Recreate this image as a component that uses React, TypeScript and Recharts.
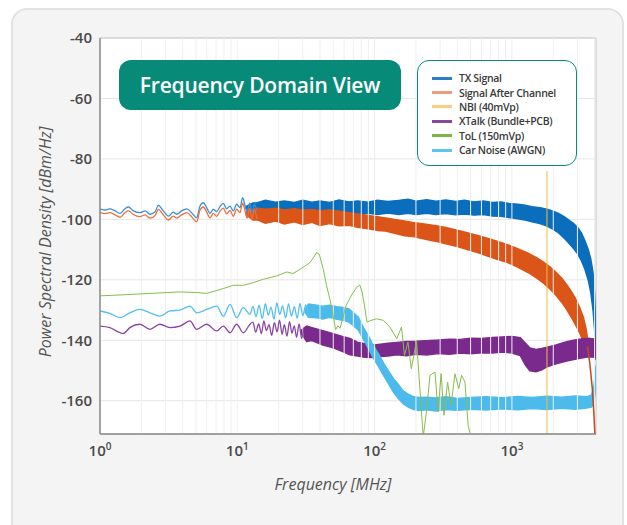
import React from "react";
import {
  ComposedChart,
  Line,
  Area,
  XAxis,
  YAxis,
  CartesianGrid,
  ReferenceLine,
  ReferenceArea,
  Legend,
} from "recharts";

const FONT = '"Open Sans", "Noto Sans", Arial, sans-serif';
const TEAL = "#088a79";

// axes: frequency in MHz (log), level in dBm/Hz
const FREQ_MIN = 1;
const FREQ_MAX = 4096;
const LEVEL_MIN = -171;
const LEVEL_MAX = -40;
const freqTicks = [1, 10, 100, 1000];
const freqMinor = [
  2, 3, 4, 5, 6, 7, 8, 9, 20, 30, 40, 50, 60, 70, 80, 90, 200, 300, 400, 500,
  600, 700, 800, 900, 2000, 3000, 4000,
];
const levelTicks = [-160, -140, -120, -100, -80, -60, -40];

const seriesNames = [
  "TX Signal",
  "Signal After Channel",
  "NBI (40mVp)",
  "XTalk (Bundle+PCB)",
  "ToL (150mVp)",
  "Car Noise (AWGN)",
];
const legendColors = ["#2c7fc7", "#f09b7e", "#f7cf7f", "#87479f", "#7db544", "#5cc4ef"];

// low-frequency part of the transmit spectrum  [MHz, dBm/Hz]
const txWave = [
  [1, -96.5], [1.09, -96.9], [1.18, -96.5], [1.29, -97.2], [1.4, -98.0], [1.52, -96.5],
  [1.61, -95.9], [1.75, -97.2], [1.95, -97.8], [2.13, -97.2], [2.31, -98.3], [2.51, -97.6],
  [2.66, -95.4], [2.89, -97.2], [3.15, -98.9], [3.42, -97.6], [3.62, -98.3], [3.93, -97.2],
  [4.28, -96.5], [4.65, -97.8], [5.06, -99.5], [5.35, -95.6], [5.65, -94.5], [5.98, -96.1],
  [6.32, -98.0], [6.69, -96.7], [7.08, -97.4], [7.48, -95.8], [7.91, -94.7], [8.36, -96.5],
  [8.85, -95.6], [9.35, -97.2], [9.89, -95.0], [10.46, -96.1], [10.94, -92.8], [11.37, -95.4],
  [11.8, -97.4], [12.3, -94.6], [12.8, -97.8], [13.3, -95.0], [13.9, -97.3],
];

// transmit spectrum noise band  [MHz, low, high]
const txBand = [
  [11.5, -96.4, -95.8], [13, -97.6, -94.6], [14, -97.7, -94.5], [16, -98.4, -93.7],
  [19, -97.9, -94.3], [22, -98.4, -93.9], [26, -98.0, -94.4], [30, -98.6, -93.7], [35, -98.1, -94.3],
  [40, -98.5, -93.9], [47, -98.0, -94.4], [55, -98.4, -93.6], [65, -98.1, -94.2], [75, -98.6, -93.9],
  [90, -98.0, -94.3], [105, -98.4, -93.7], [125, -97.9, -94.1], [150, -98.4, -93.7], [175, -98.0, -93.3],
  [200, -98.4, -94.0], [240, -98.0, -93.5], [280, -98.4, -94.0], [330, -98.1, -93.6], [390, -98.5, -94.1],
  [450, -98.2, -93.7], [530, -98.6, -94.2], [620, -98.4, -93.9], [720, -98.9, -94.4], [830, -99.0, -94.2],
  [950, -99.4, -94.7], [1100, -99.8, -95.0], [1250, -100.2, -95.3], [1400, -100.8, -95.8],
  [1600, -101.4, -96.1], [1800, -102.2, -96.6], [2000, -103.3, -97.3], [2200, -104.6, -98.1],
  [2400, -106.2, -99.1], [2600, -107.9, -100.2], [2800, -109.6, -101.3], [3000, -111.3, -102.6],
  [3200, -113.6, -104.4], [3400, -116.5, -107.0], [3600, -120.2, -110.0], [3750, -124.2, -113.0],
  [3900, -130.2, -117.6], [4000, -136.5, -124.2], [4096, -146.5, -138.2],
];

// received signal after the channel
const rxWave = [
  [1, -97.7], [1.09, -98.1], [1.18, -97.8], [1.29, -98.5], [1.4, -99.3], [1.52, -97.8],
  [1.61, -97.2], [1.75, -98.4], [1.95, -99.1], [2.13, -98.5], [2.31, -99.6], [2.51, -98.8],
  [2.66, -96.7], [2.89, -98.5], [3.15, -100.2], [3.42, -98.9], [3.62, -99.6], [3.93, -98.5],
  [4.28, -97.8], [4.65, -99.1], [5.06, -100.8], [5.35, -97.0], [5.65, -95.9], [5.98, -97.5],
  [6.32, -99.5], [6.69, -98.0], [7.08, -99.0], [7.48, -97.3], [7.91, -96.3], [8.36, -98.2],
  [8.85, -97.0], [9.35, -99.0], [9.89, -96.6], [10.46, -97.8], [10.94, -94.6], [11.37, -97.1],
  [11.8, -99.6], [12.3, -96.4], [12.8, -100.2], [13.3, -96.8], [13.9, -99.8],
];

const rxBand = [
  [11.5, -98.4, -97.7], [13, -100.2, -96.6], [14, -100.2, -96.3], [16, -101.3, -96.6],
  [19, -100.6, -96.3], [22, -101.5, -96.9], [26, -100.8, -96.5], [30, -101.7, -97.0], [35, -101.0, -96.7],
  [40, -102.0, -97.1], [47, -101.4, -96.9], [55, -102.1, -97.3], [65, -102.0, -97.8], [75, -102.6, -98.2],
  [90, -103.1, -98.7], [105, -103.7, -99.1], [120, -103.9, -99.5], [140, -104.6, -100.0],
  [165, -105.4, -100.5], [190, -105.7, -101.0], [230, -106.5, -101.5], [280, -107.3, -102.1],
  [330, -108.1, -102.7], [400, -109.0, -103.6], [480, -110.1, -104.5], [570, -111.1, -105.4],
  [680, -112.3, -106.4], [800, -113.4, -107.4], [950, -114.5, -108.5], [1100, -115.8, -109.7],
  [1300, -117.5, -111.1], [1500, -119.3, -112.6], [1700, -121.1, -114.1], [1900, -123.1, -115.8],
  [2100, -125.2, -117.6], [2300, -127.4, -119.4], [2500, -129.8, -121.5], [2700, -132.3, -123.7],
  [2900, -134.8, -126.1], [3100, -137.4, -128.9], [3300, -140.3, -132.1], [3450, -142.8, -135.6],
  [3550, -144.3, -139],
];

const rxTail = [[3550, -142], [3700, -148], [3850, -156], [3950, -164], [4030, -172]];

// narrow-band interferer
const NBI_FREQ = 1800;
const nbiLevels = [-84, -171];

// crosstalk
const xtalkWave = [
  [1, -135.3], [1.18, -135.8], [1.4, -137.5], [1.48, -137.7], [1.65, -135.8], [1.95, -134.7],
  [2.31, -136.4], [2.73, -134.7], [3.23, -135.8], [3.83, -135.3], [4.52, -133.6], [5.06, -136.4],
  [5.98, -134.7], [7.08, -136.9], [7.91, -135.3], [8.85, -137.5], [9.89, -134.7], [11.06, -137.5],
  [12.37, -134.7], [13, -134.0], [13.6, -137.3], [14.3, -134.6], [15, -137.8], [15.6, -133.6],
  [16.3, -136.8], [17, -134.8], [17.8, -138.4], [18.6, -134.2], [19.5, -137.2], [20.3, -133.3],
  [21.2, -138.0], [22, -134.8], [23, -138.6], [24, -133.8], [25, -137.6], [26, -135.2], [27, -139.0],
  [28.2, -134.6], [29.4, -139.4], [30.5, -135.8],
];

const xtalkBand = [
  [29, -137.6, -136.8], [32, -140.4, -135.3], [35, -140.1, -135.8], [42, -141.6, -136.8], [50, -142.5, -137.8],
  [59, -143.8, -138.8], [66, -144.8, -139.4], [75, -145.2, -140.6], [85, -145.6, -141.1], [95, -145.7, -141.6],
  [110, -145.4, -141.3], [125, -145.2, -141.0], [145, -144.8, -140.7], [170, -145.1, -140.4],
  [200, -144.6, -140.3], [240, -144.9, -140.1], [290, -144.4, -139.9], [350, -144.6, -139.6],
  [420, -144.2, -139.7], [500, -144.5, -139.3], [600, -144.1, -139.4], [720, -144.2, -139.1],
  [850, -143.9, -138.9], [1000, -144.2, -138.7], [1150, -145.1, -139.1], [1250, -148.1, -140.9],
  [1350, -150.1, -142.5], [1500, -150.4, -143.0], [1650, -149.8, -142.7], [1800, -148.8, -142.3],
  [2100, -147.8, -141.5], [2500, -146.9, -140.5], [3000, -146.1, -139.7], [3600, -145.5, -139.3],
  [4096, -145.6, -139.6],
];

// toggling-of-lines disturbance
const tolLine = [
  [1, -125.3], [1.4, -125.0], [2.3, -124.5], [3.8, -124.0], [5.06, -124.2], [5.98, -124.5],
  [7.9, -122.9], [9.35, -121.8], [11.1, -121.8], [13.1, -120.9], [15.5, -119.8], [19.4, -118.7],
  [22.9, -117.4], [25.5, -117.9], [28.6, -116.5], [31.2, -115.4], [33.8, -114.3], [35.8, -112.7],
  [37.8, -111.0], [39.5, -111.5], [42.3, -116.5], [44.7, -122], [47.3, -126.5], [50, -132],
  [52, -136.5], [54, -135.2], [56, -136], [58, -133.5], [62, -128.5], [68, -125], [74, -122.5],
  [78, -121.7], [81, -124], [84, -128], [88, -134], [93, -133.5], [103, -132.9], [116, -133.4],
  [129, -135.6], [145, -139.5], [157, -135.6], [165, -145], [175, -140.6], [185, -149.4],
  [202, -140.1], [212, -153.8], [226, -172], [240, -162.6], [253, -151.6], [275, -150.5],
  [290, -163.7], [305, -151], [320, -164.8], [340, -153.8], [360, -161.5], [385, -151.1],
  [410, -156], [430, -151.6], [455, -153.8], [480, -168.2], [509, -173],
];

// background (AWGN) noise
const awgnWave = [
  [1, -130.3], [1.18, -131.1], [1.4, -132.5], [1.65, -130.9], [1.95, -129.8], [2.31, -130.9],
  [2.73, -132], [3.23, -130.3], [3.83, -130], [4.52, -128.7], [5.06, -130.9], [5.98, -129.8],
  [7.08, -128.7], [7.91, -132], [8.85, -128.1], [9.89, -132.5], [11.06, -129.2], [12.37, -131.4],
  [13, -128.8], [13.7, -132.2], [14.4, -128.4], [15.2, -132.8], [16, -127.9], [16.8, -131.7],
  [17.6, -129.0], [18.5, -133.0], [19.4, -127.6], [20.4, -131.5], [21.4, -128.6], [22.5, -132.6],
  [23.6, -128.0], [24.8, -132.0], [26, -128.9], [27.3, -132.7], [28.6, -127.8], [30, -131.9],
  [31.5, -128.3], [33, -132.4],
];

const awgnBand = [
  [31, -130.6, -129.8], [33, -132.4, -128.0], [38, -132.6, -128.4], [42, -133.0, -128.7],
  [47, -132.4, -128.4], [53, -133.1, -128.9], [59, -133.4, -129.1], [65, -134.0, -129.6],
  [70, -135.2, -130.9], [76, -136.6, -132.3], [83, -139.8, -135.8], [90, -142.6, -138.5], [98, -145.9, -141.8],
  [107, -148.8, -144.6], [116, -151.6, -147.5], [126, -154.3, -150.1], [137, -157.1, -152.6],
  [150, -159.4, -154.8], [162, -161.1, -156.8], [177, -162.2, -157.9], [191, -162.8, -158.6],
  [210, -163.2, -158.9], [240, -163.0, -158.8], [280, -163.4, -159.1], [330, -162.9, -158.7],
  [400, -163.2, -159.2], [500, -162.8, -158.9], [650, -163.1, -158.7], [850, -162.7, -159.0],
  [1100, -163.0, -158.6], [1400, -162.6, -158.9], [1800, -162.9, -158.5], [2300, -162.5, -158.8],
  [2900, -162.8, -158.4], [3500, -162.4, -158.7], [3800, -162.1, -158.1], [3950, -160.6, -155.3],
  [4096, -155.6, -148.3],
];

const toLine = (rows: number[][]) => rows.map(([f, v]) => ({ f, v }));
const toBand = (rows: number[][]) => rows.map(([f, lo, hi]) => ({ f, band: [lo, hi] }));

const PowerTick = ({ x, y, payload }: any) => (
  <text x={x} y={y + 14} textAnchor="middle" fill="#4a4a4a" fontFamily={FONT} fontSize={15} fontWeight={600}>
    10
    <tspan dy={-6} fontSize={10}>
      {Math.round(Math.log10(payload.value))}
    </tspan>
  </text>
);

const LegendBox = () => (
  <div
    style={{
      width: 160,
      height: 106,
      boxSizing: "border-box",
      background: "#fff",
      border: `1.5px solid ${TEAL}`,
      borderRadius: 12,
      padding: "10px 0 0 14px",
    }}
  >
    {seriesNames.map((name, i) => (
      <div key={name} style={{ display: "flex", alignItems: "center", height: 14.4 }}>
        <span style={{ width: 20, height: 3, background: legendColors[i], marginRight: 7 }} />
        <span
          style={{
            fontFamily: FONT,
            fontSize: 10.5,
            fontWeight: 600,
            color: "#3a3a3a",
            letterSpacing: -0.3,
            whiteSpace: "nowrap",
          }}
        >
          {name}
        </span>
      </div>
    ))}
  </div>
);

export default function App() {
  return (
    <div style={{ position: "fixed", left: 0, top: 0, width: 627, height: 525, background: "#fff", overflow: "hidden" }}>
      <div
        style={{
          position: "absolute",
          left: 11,
          top: 8,
          width: 609,
          height: 560,
          background: "#f4f4f4",
          border: "2px solid #e2e2e2",
          borderRadius: 16,
        }}
      />
      <div style={{ position: "absolute", left: 0, top: 0 }}>
        <ComposedChart width={627} height={525} margin={{ top: 38, right: 31, bottom: 51, left: 40 }}>
          <CartesianGrid vertical={false} stroke="#e6e6e6" fill="#fff" />
          {freqMinor.concat(freqTicks).map((f) => (
            <ReferenceLine key={f} x={f} stroke="#efefef" strokeWidth={1} />
          ))}
          <XAxis
            dataKey="f"
            type="number"
            scale="log"
            domain={[FREQ_MIN, FREQ_MAX]}
            ticks={freqTicks}
            allowDataOverflow
            height={40}
            tickLine={false}
            axisLine={{ stroke: "#8c8c8c", strokeWidth: 1.5 }}
            tick={<PowerTick />}
            label={{
              content: () => (
                <text x={333} y={490} textAnchor="middle" fill="#555" fontFamily={FONT} fontSize={16} fontStyle="italic">
                  Frequency [MHz]
                </text>
              ),
            }}
          />
          <YAxis
            type="number"
            domain={[LEVEL_MIN, LEVEL_MAX]}
            ticks={levelTicks}
            allowDataOverflow
            width={60}
            tickLine={false}
            axisLine={{ stroke: "#8c8c8c", strokeWidth: 1.5 }}
            tick={{ fill: "#4a4a4a", fontFamily: FONT, fontSize: 15, fontWeight: 600 }}
            label={{
              content: () => (
                <text
                  x={47}
                  y={242}
                  transform="rotate(-90 47 242)"
                  textAnchor="middle"
                  dominantBaseline="middle"
                  fill="#555"
                  fontFamily={FONT}
                  fontSize={16}
                  fontStyle="italic"
                >
                  Power Spectral Density [dBm/Hz]
                </text>
              ),
            }}
          />
          <ReferenceArea x1={FREQ_MIN} x2={FREQ_MAX} y1={LEVEL_MIN} y2={LEVEL_MAX} fill="none" stroke="#c4c4c4" />

          <Line data={toLine(txWave)} dataKey="v" type="monotone" stroke="#3d8fd6" strokeWidth={1.3} dot={false} isAnimationActive={false} />
          <Area data={toBand(txBand)} dataKey="band" type="linear" stroke="#0a6ebd" strokeWidth={1.4} fill="#0a6ebd" fillOpacity={1} isAnimationActive={false} />
          <Line data={toLine(rxWave)} dataKey="v" type="monotone" stroke="#e8713f" strokeWidth={1.3} dot={false} isAnimationActive={false} />
          <Area data={toBand(rxBand)} dataKey="band" type="linear" stroke="#dc5518" strokeWidth={1.4} fill="#dc5518" fillOpacity={1} isAnimationActive={false} />
          <Line data={toLine(rxTail)} dataKey="v" type="linear" stroke="#c24a16" strokeWidth={1.5} dot={false} isAnimationActive={false} />

          <Line data={toLine(xtalkWave)} dataKey="v" type="monotone" stroke="#8a45a2" strokeWidth={1.3} dot={false} isAnimationActive={false} />
          <Area data={toBand(xtalkBand)} dataKey="band" type="linear" stroke="#7a2a8c" strokeWidth={1.4} fill="#7a2a8c" fillOpacity={1} isAnimationActive={false} />

          <Line data={toLine(awgnWave)} dataKey="v" type="monotone" stroke="#55bfee" strokeWidth={1.3} dot={false} isAnimationActive={false} />
          <Area data={toBand(awgnBand)} dataKey="band" type="linear" stroke="#4cbbec" strokeWidth={1.4} fill="#4cbbec" fillOpacity={1} isAnimationActive={false} />

          <Line data={toLine(tolLine)} dataKey="v" type="linear" stroke="#86bd4c" strokeWidth={1} dot={false} isAnimationActive={false} />

          <Line
            data={nbiLevels.map((v) => ({ f: NBI_FREQ, v }))}
            dataKey="v"
            stroke="#f2b94a"
            strokeWidth={1}
            dot={false}
            isAnimationActive={false}
          />

          <Legend
            layout="horizontal"
            verticalAlign="middle"
            align="center"
            wrapperStyle={{ position: "absolute", left: 417, top: 60, width: 160, height: 106 }}
            content={() => <LegendBox />}
          />
        </ComposedChart>
      </div>
      <div
        style={{
          position: "absolute",
          left: 119,
          top: 60,
          width: 282,
          height: 50,
          background: TEAL,
          borderRadius: 12,
          color: "#fff",
          fontFamily: FONT,
          fontSize: 21,
          fontWeight: 600,
          display: "flex",
          alignItems: "center",
          justifyContent: "center",
          letterSpacing: -0.2,
        }}
      >
        Frequency Domain View
      </div>
    </div>
  );
}
